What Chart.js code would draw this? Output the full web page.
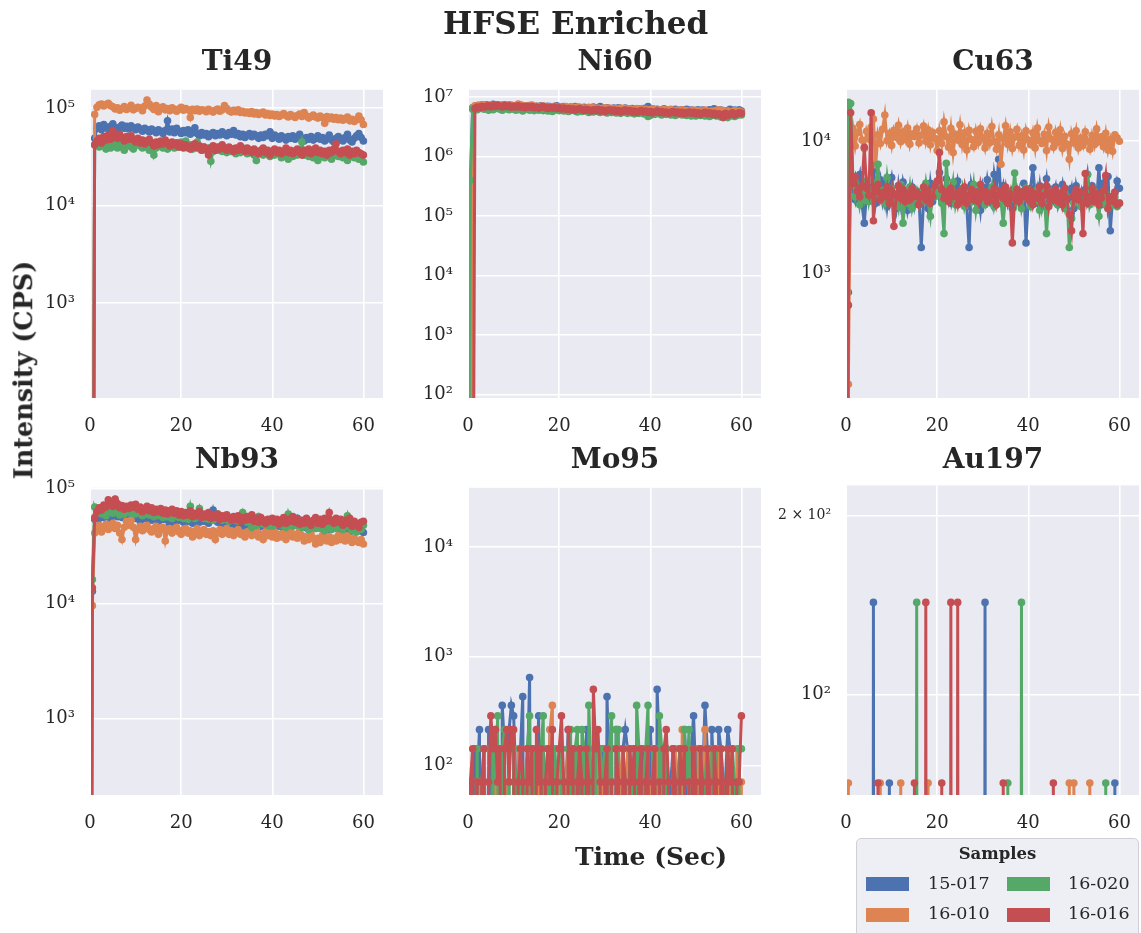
<!DOCTYPE html>
<html>
<head>
<meta charset="utf-8">
<title>HFSE Enriched</title>
<script src="https://cdn.jsdelivr.net/npm/chart.js@4.4.1/dist/chart.umd.min.js"></script>
<style>
  body { margin: 0; background: #fff; }
  #fig { position: relative; width: 1141px; height: 933px; overflow: hidden;
         font-family: "DejaVu Serif", serif; color: #262626; }
  #fig canvas { position: absolute; }
  .lbl { position: absolute; font-weight: bold; white-space: nowrap; line-height: 1; }
  .ptitle { font-size: 28px; width: 292px; text-align: center; }
  #legend { position: absolute; left: 856px; top: 838px; width: 281px; height: 110px;
            background: rgba(234, 234, 242, 0.8); border: 1px solid #cfcfd6; border-radius: 5px; }
  #legend .sw { position: absolute; width: 43px; height: 14px; }
  #legend .txt { position: absolute; font-size: 17.5px; line-height: 1; }
</style>
</head>
<body>
<div id="fig"></div>
<script>
// sample names and seaborn "deep" colours
const sampleNames = ['15-017', '16-010', '16-020', '16-016'];
const sampleColors = ['#4C72B0', '#DD8452', '#55A868', '#C44E52'];

// acquisition time (s)
const timeSec = [
  0, 0.5, 1, 1.5, 2, 2.5, 3, 3.5, 4, 4.5,
  5, 5.5, 6, 6.5, 7, 7.5, 8, 8.5, 9, 9.5,
  10, 10.5, 11, 11.5, 12, 12.5, 13, 13.5, 14, 14.5,
  15, 15.5, 16, 16.5, 17, 17.5, 18, 18.5, 19, 19.5,
  20, 20.5, 21, 21.5, 22, 22.5, 23, 23.5, 24, 24.5,
  25, 25.5, 26, 26.5, 27, 27.5, 28, 28.5, 29, 29.5,
  30, 30.5, 31, 31.5, 32, 32.5, 33, 33.5, 34, 34.5,
  35, 35.5, 36, 36.5, 37, 37.5, 38, 38.5, 39, 39.5,
  40, 40.5, 41, 41.5, 42, 42.5, 43, 43.5, 44, 44.5,
  45, 45.5, 46, 46.5, 47, 47.5, 48, 48.5, 49, 49.5,
  50, 50.5, 51, 51.5, 52, 52.5, 53, 53.5, 54, 54.5,
  55, 55.5, 56, 56.5, 57, 57.5, 58, 58.5, 59, 59.5,
  60];
const timeTicks = [0, 20, 40, 60];

// ---- Ti49 (CPS) ----
const ti49_15_017 = [
  0, 0, 4.9e4, 6.2e4, 6.6e4, 6.0e4, 6.8e4, 6.4e4, 6.1e4, 6.5e4,
  6.9e4, 6.3e4, 6.0e4, 6.4e4, 6.7e4, 6.2e4, 6.5e4, 6.1e4, 6.6e4, 6.3e4,
  6.0e4, 6.4e4, 6.1e4, 5.8e4, 6.2e4, 6.0e4, 5.7e4, 6.1e4, 5.9e4, 5.6e4,
  6.0e4, 5.8e4, 5.5e4, 5.9e4, 7.4e4, 5.7e4, 6.1e4, 5.6e4, 6.2e4, 5.8e4,
  5.5e4, 5.9e4, 5.6e4, 6.0e4, 5.4e4, 5.7e4, 6.3e4, 5.5e4, 5.2e4, 5.6e4,
  5.3e4, 5.5e4, 5.1e4, 5.4e4, 5.6e4, 5.2e4, 5.5e4, 5.3e4, 5.7e4, 5.4e4,
  5.2e4, 5.6e4, 5.4e4, 5.9e4, 5.3e4, 5.5e4, 5.1e4, 5.4e4, 5.0e4, 5.3e4,
  5.5e4, 5.1e4, 5.4e4, 5.2e4, 4.9e4, 5.3e4, 5.0e4, 5.4e4, 5.2e4, 5.7e4,
  4.9e4, 5.3e4, 5.1e4, 4.8e4, 5.2e4, 5.0e4, 4.7e4, 5.1e4, 4.9e4, 5.2e4,
  4.8e4, 5.0e4, 5.4e4, 4.9e4, 4.6e4, 5.0e4, 4.8e4, 5.1e4, 4.7e4, 4.9e4,
  5.2e4, 4.8e4, 5.0e4, 4.6e4, 4.9e4, 5.3e4, 4.7e4, 4.5e4, 4.9e4, 5.1e4,
  4.8e4, 4.6e4, 5.0e4, 5.4e4, 4.7e4, 4.5e4, 4.9e4, 5.2e4, 5.5e4, 5.0e4,
  4.6e4];
const ti49_16_010 = [
  0, 0, 8.6e4, 1.02e5, 1.08e5, 1.1e5, 1.05e5, 1.09e5, 1.12e5, 1.06e5,
  1.03e5, 9.8e4, 1.01e5, 9.5e4, 9.9e4, 1.04e5, 9.7e4, 1.0e5, 1.07e5, 9.6e4,
  9.9e4, 1.02e5, 1.0e5, 9.4e4, 1.05e5, 1.21e5, 1.1e5, 1.02e5, 9.7e4, 1.06e5,
  9.2e4, 1.0e5, 1.03e5, 9.6e4, 9.9e4, 9.4e4, 1.01e5, 9.7e4, 9.3e4, 9.8e4,
  1.02e5, 9.5e4, 9.9e4, 9.6e4, 8.0e4, 9.7e4, 9.4e4, 9.8e4, 9.3e4, 9.6e4,
  9.5e4, 9.2e4, 9.7e4, 9.4e4, 9.1e4, 9.5e4, 9.8e4, 9.3e4, 9.6e4, 1.06e5,
  9.9e4, 9.4e4, 9.1e4, 9.5e4, 9.2e4, 9.6e4, 9.0e4, 9.3e4, 8.9e4, 9.1e4,
  8.8e4, 9.2e4, 8.7e4, 9.0e4, 8.6e4, 8.9e4, 9.1e4, 8.5e4, 8.8e4, 8.4e4,
  8.7e4, 8.3e4, 8.6e4, 8.2e4, 8.5e4, 8.8e4, 8.4e4, 8.1e4, 8.6e4, 8.3e4,
  8.0e4, 8.4e4, 8.7e4, 8.2e4, 9.0e4, 8.3e4, 7.9e4, 8.2e4, 8.5e4, 8.1e4,
  7.9e4, 8.3e4, 8.0e4, 7.0e4, 8.2e4, 7.8e4, 8.1e4, 7.7e4, 8.0e4, 7.6e4,
  7.9e4, 7.5e4, 7.8e4, 8.1e4, 7.4e4, 7.7e4, 7.3e4, 7.6e4, 8.3e4, 7.6e4,
  6.8e4];
const ti49_16_020 = [
  0, 0, 4.2e4, 4.4e4, 4.0e4, 4.6e4, 4.1e4, 3.8e4, 4.3e4, 3.9e4,
  4.5e4, 4.1e4, 3.9e4, 4.4e4, 4.0e4, 3.7e4, 4.2e4, 4.7e4, 4.0e4, 3.8e4,
  4.3e4, 4.8e4, 4.1e4, 3.9e4, 4.4e4, 4.0e4, 3.7e4, 4.2e4, 3.3e4, 3.9e4,
  4.1e4, 4.4e4, 3.9e4, 4.2e4, 3.8e4, 4.1e4, 4.4e4, 3.9e4, 4.3e4, 4.0e4,
  4.5e4, 4.1e4, 4.6e4, 3.9e4, 4.2e4, 3.8e4, 4.1e4, 4.5e4, 4.0e4, 3.7e4,
  4.0e4, 3.7e4, 3.9e4, 2.85e4, 3.6e4, 3.9e4, 3.7e4, 4.0e4, 3.6e4, 3.8e4,
  3.5e4, 3.9e4, 3.6e4, 3.8e4, 3.4e4, 3.7e4, 3.5e4, 3.9e4, 3.6e4, 3.4e4,
  3.7e4, 3.5e4, 3.3e4, 2.9e4, 3.4e4, 3.6e4, 3.3e4, 3.7e4, 3.4e4, 3.2e4,
  3.5e4, 3.3e4, 3.6e4, 3.4e4, 3.1e4, 3.5e4, 3.3e4, 3.0e4, 3.4e4, 3.2e4,
  3.6e4, 3.3e4, 3.5e4, 4.5e4, 3.3e4, 3.6e4, 3.2e4, 3.4e4, 3.1e4, 3.3e4,
  2.9e4, 3.2e4, 3.5e4, 3.1e4, 3.4e4, 3.2e4, 3.0e4, 3.3e4, 3.6e4, 3.2e4,
  3.4e4, 3.1e4, 3.3e4, 2.9e4, 3.2e4, 3.4e4, 3.1e4, 3.3e4, 3.0e4, 3.2e4,
  2.8e4];
const ti49_16_016 = [
  0, 0, 4.2e4, 4.6e4, 4.9e4, 4.4e4, 5.1e4, 4.7e4, 5.3e4, 4.8e4,
  5.85e4, 5.2e4, 4.9e4, 5.4e4, 5.0e4, 4.6e4, 5.1e4, 4.8e4, 5.2e4, 4.7e4,
  4.5e4, 4.9e4, 4.4e4, 4.7e4, 4.3e4, 4.6e4, 4.8e4, 4.4e4, 4.1e4, 4.5e4,
  4.2e4, 4.6e4, 4.3e4, 4.7e4, 4.4e4, 4.1e4, 4.5e4, 4.2e4, 4.4e4, 4.0e4,
  4.3e4, 3.9e4, 4.2e4, 4.0e4, 3.8e4, 4.1e4, 4.3e4, 3.9e4, 4.1e4, 3.7e4,
  4.0e4, 3.8e4, 3.3e4, 3.9e4, 4.1e4, 3.7e4, 4.0e4, 3.8e4, 4.2e4, 3.9e4,
  3.7e4, 4.0e4, 3.8e4, 3.6e4, 3.9e4, 3.7e4, 4.1e4, 3.8e4, 3.6e4, 3.9e4,
  3.7e4, 3.5e4, 3.8e4, 3.6e4, 3.4e4, 3.7e4, 3.9e4, 3.5e4, 3.7e4, 3.3e4,
  3.6e4, 3.8e4, 3.5e4, 3.7e4, 3.4e4, 3.6e4, 3.9e4, 3.5e4, 3.7e4, 3.4e4,
  3.6e4, 3.8e4, 3.5e4, 3.3e4, 3.7e4, 3.5e4, 3.8e4, 3.4e4, 3.6e4, 3.9e4,
  3.5e4, 3.7e4, 3.4e4, 3.6e4, 3.3e4, 3.7e4, 3.5e4, 3.8e4, 4.3e4, 3.6e4,
  3.4e4, 3.7e4, 3.5e4, 3.8e4, 3.3e4, 3.6e4, 3.4e4, 3.7e4, 3.5e4, 3.4e4,
  3.3e4];

// ---- Ni60 (CPS) ----
const ni60_15_017 = [
  0, 3.1e5, 6.6e6, 7.0e6, 7.2e6, 6.9e6, 7.3e6, 7.1e6, 7.4e6, 7.0e6,
  7.2e6, 7.5e6, 7.1e6, 7.3e6, 6.9e6, 7.2e6, 7.4e6, 7.0e6, 7.3e6, 7.1e6,
  6.9e6, 7.2e6, 7.0e6, 7.3e6, 6.8e6, 7.1e6, 6.9e6, 7.2e6, 7.0e6, 6.7e6,
  7.0e6, 6.8e6, 7.1e6, 6.9e6, 6.7e6, 7.0e6, 6.8e6, 6.6e6, 6.9e6, 7.1e6,
  6.8e6, 6.6e6, 6.9e6, 6.7e6, 6.5e6, 6.8e6, 6.6e6, 6.9e6, 6.5e6, 6.7e6,
  6.4e6, 6.7e6, 6.5e6, 6.3e6, 6.6e6, 6.8e6, 6.4e6, 6.6e6, 6.9e6, 6.5e6,
  6.3e6, 6.6e6, 6.4e6, 6.2e6, 6.5e6, 6.3e6, 6.6e6, 6.4e6, 6.2e6, 6.5e6,
  6.3e6, 6.1e6, 6.4e6, 6.2e6, 6.0e6, 6.3e6, 6.1e6, 6.4e6, 6.2e6, 6.9e6,
  6.1e6, 6.3e6, 6.0e6, 6.2e6, 5.9e6, 6.1e6, 6.3e6, 6.0e6, 5.8e6, 6.1e6,
  5.9e6, 6.2e6, 6.0e6, 5.8e6, 6.1e6, 5.9e6, 6.2e6, 5.8e6, 6.0e6, 5.7e6,
  5.9e6, 6.1e6, 5.8e6, 6.0e6, 5.7e6, 5.9e6, 6.1e6, 5.8e6, 6.3e6, 5.9e6,
  5.7e6, 6.0e6, 5.8e6, 5.6e6, 5.9e6, 6.2e6, 5.8e6, 6.0e6, 5.7e6, 6.1e6,
  5.8e6];
const ni60_16_010 = [
  0, 0, 6.5e6, 7.1e6, 6.9e6, 7.3e6, 7.0e6, 7.4e6, 7.2e6, 6.9e6,
  7.3e6, 7.0e6, 7.2e6, 6.8e6, 7.1e6, 7.4e6, 6.9e6, 7.2e6, 7.0e6, 7.3e6,
  6.9e6, 7.1e6, 7.6e6, 7.0e6, 7.2e6, 6.8e6, 7.1e6, 6.9e6, 7.3e6, 6.8e6,
  7.0e6, 6.7e6, 6.9e6, 7.1e6, 6.8e6, 6.6e6, 6.9e6, 6.7e6, 7.0e6, 6.6e6,
  6.8e6, 6.5e6, 6.7e6, 6.9e6, 6.6e6, 6.4e6, 6.7e6, 6.5e6, 6.8e6, 6.4e6,
  6.6e6, 6.3e6, 6.5e6, 6.7e6, 6.4e6, 6.6e6, 6.3e6, 6.5e6, 6.2e6, 6.4e6,
  6.6e6, 6.3e6, 6.5e6, 6.2e6, 6.4e6, 6.1e6, 6.3e6, 6.5e6, 6.2e6, 6.4e6,
  6.1e6, 6.3e6, 6.0e6, 6.2e6, 6.4e6, 6.1e6, 6.3e6, 6.0e6, 6.2e6, 5.9e6,
  6.1e6, 6.3e6, 6.0e6, 5.8e6, 6.1e6, 5.9e6, 6.2e6, 5.8e6, 6.0e6, 6.2e6,
  5.9e6, 5.7e6, 6.0e6, 5.8e6, 6.1e6, 5.7e6, 5.9e6, 5.6e6, 5.8e6, 6.0e6,
  5.7e6, 5.9e6, 5.6e6, 5.8e6, 6.0e6, 5.7e6, 5.5e6, 5.8e6, 5.6e6, 5.9e6,
  6.1e6, 5.7e6, 5.9e6, 5.6e6, 5.8e6, 5.5e6, 5.7e6, 5.9e6, 5.6e6, 5.8e6,
  5.6e6];
const ni60_16_020 = [
  0, 4.0e5, 6.2e6, 6.5e6, 6.1e6, 6.4e6, 6.6e6, 6.2e6, 6.5e6, 6.0e6,
  6.3e6, 6.1e6, 6.4e6, 6.6e6, 6.2e6, 6.0e6, 6.3e6, 6.5e6, 6.1e6, 6.4e6,
  6.2e6, 6.0e6, 6.3e6, 6.1e6, 5.8e6, 6.2e6, 6.4e6, 6.0e6, 6.3e6, 5.9e6,
  6.2e6, 6.0e6, 6.3e6, 5.9e6, 6.1e6, 5.8e6, 6.2e6, 5.7e6, 6.0e6, 6.2e6,
  5.9e6, 6.1e6, 5.8e6, 6.0e6, 5.7e6, 5.9e6, 6.1e6, 5.8e6, 5.6e6, 5.9e6,
  5.7e6, 6.0e6, 5.8e6, 5.5e6, 5.8e6, 5.6e6, 5.9e6, 5.7e6, 5.5e6, 5.8e6,
  5.6e6, 5.4e6, 5.7e6, 5.5e6, 5.8e6, 5.4e6, 5.6e6, 5.3e6, 5.6e6, 5.5e6,
  5.3e6, 5.6e6, 5.4e6, 5.2e6, 5.5e6, 5.3e6, 5.6e6, 5.2e6, 5.4e6, 4.7e6,
  4.9e6, 5.3e6, 5.1e6, 5.4e6, 5.2e6, 5.0e6, 5.3e6, 5.1e6, 5.4e6, 5.0e6,
  5.2e6, 4.9e6, 5.1e6, 5.3e6, 5.0e6, 5.2e6, 4.9e6, 5.1e6, 4.8e6, 5.0e6,
  4.8e6, 5.1e6, 4.9e6, 5.2e6, 4.8e6, 5.0e6, 4.7e6, 4.9e6, 5.1e6, 4.8e6,
  5.0e6, 4.6e6, 4.9e6, 5.1e6, 4.5e6, 4.8e6, 5.0e6, 4.7e6, 4.9e6, 5.1e6,
  5.0e6];
const ni60_16_016 = [
  0, 0, 0, 6.4e6, 6.8e6, 6.6e6, 7.0e6, 6.7e6, 6.9e6, 7.2e6,
  6.8e6, 7.1e6, 6.9e6, 7.3e6, 7.0e6, 6.8e6, 7.2e6, 6.9e6, 7.1e6, 6.7e6,
  7.0e6, 6.8e6, 7.1e6, 6.7e6, 6.9e6, 6.6e6, 6.9e6, 6.7e6, 7.0e6, 6.6e6,
  6.8e6, 6.5e6, 6.7e6, 6.9e6, 6.6e6, 6.4e6, 6.7e6, 6.5e6, 6.8e6, 6.4e6,
  6.6e6, 6.3e6, 6.5e6, 6.2e6, 6.4e6, 6.1e6, 6.3e6, 6.0e6, 6.2e6, 6.4e6,
  6.1e6, 5.9e6, 6.2e6, 6.0e6, 5.8e6, 6.1e6, 5.9e6, 6.2e6, 5.8e6, 6.0e6,
  5.7e6, 5.9e6, 6.1e6, 5.8e6, 6.0e6, 5.7e6, 5.9e6, 5.6e6, 5.8e6, 6.0e6,
  5.7e6, 5.9e6, 5.6e6, 5.8e6, 5.5e6, 5.7e6, 5.9e6, 5.6e6, 5.8e6, 5.5e6,
  5.7e6, 5.4e6, 5.6e6, 5.8e6, 5.5e6, 5.7e6, 5.4e6, 5.6e6, 5.3e6, 5.5e6,
  5.7e6, 5.4e6, 5.6e6, 5.3e6, 5.5e6, 5.2e6, 5.4e6, 5.6e6, 5.3e6, 5.5e6,
  5.2e6, 5.4e6, 5.1e6, 5.3e6, 5.5e6, 5.2e6, 5.4e6, 5.1e6, 5.3e6, 5.0e6,
  5.2e6, 5.0e6, 4.5e6, 5.3e6, 4.9e6, 5.1e6, 5.4e6, 5.0e6, 5.2e6, 5.4e6,
  5.3e6];

// ---- Cu63 (CPS) ----
const cu63_15_017 = [
  0, 720, 5200, 4300, 3600, 4800, 5600, 3300, 2400, 4100,
  4500, 3800, 6000, 3400, 4200, 5100, 3600, 4700, 3200, 4400,
  5300, 3900, 3100, 4600, 3400, 4900, 4100, 3000, 3700, 4500,
  3300, 4200, 3800, 1570, 3600, 4400, 3100, 4800, 3500, 4000,
  4700, 5800, 3600, 4300, 5200, 3900, 3400, 4600, 3800, 5000,
  4100, 3500, 4400, 3200, 1570, 4700, 3900, 3600, 4200, 3000,
  4500, 3700, 5100, 4000, 3400, 5600, 4300, 7300, 3800, 4600,
  3500, 4200, 3900, 3100, 4400, 3700, 4100, 3300, 4800, 1700,
  3700, 4400, 6300, 3900, 3400, 4600, 3200, 4100, 5200, 3600,
  4300, 3800, 4500, 3300, 3900, 4700, 3500, 4200, 3700, 4400,
  3100, 4600, 3800, 4100, 3500, 4300, 5600, 3900, 4600, 4200,
  3600, 6300, 3300, 4800, 3900, 5400, 2100, 3700, 4100, 5000,
  4400];
const cu63_16_010 = [
  0, 145, 9800, 12500, 9200, 11600, 13400, 10200, 8800, 11900,
  10400, 12800, 14700, 6600, 11200, 9600, 12300, 15800, 10100, 11500,
  9300, 12100, 10700, 13200, 9900, 11800, 10300, 12600, 9500, 11400,
  10800, 12400, 9700, 11100, 13000, 10000, 12200, 9400, 11700, 10500,
  8500, 12000, 9600, 14000, 10800, 9000, 12500, 8200, 11300, 10200,
  13300, 9400, 11600, 8600, 12100, 10300, 9100, 11900, 9800, 12400,
  10600, 8900, 11500, 9700, 12900, 10000, 8700, 11200, 6700, 10500,
  13100, 9500, 11800, 8800, 10700, 12300, 9300, 11000, 8600, 12000,
  10200, 9400, 11600, 8900, 12600, 10100, 9600, 11300, 8500, 12800,
  10400, 9000, 11700, 9800, 12200, 8800, 10900, 9500, 7300, 11400,
  9700, 12000, 8900, 10600, 9300, 11800, 10000, 8700, 11100, 9400,
  12400, 9900, 10800, 9100, 11500, 8600, 10300, 8400, 11200, 10600,
  10000];
const cu63_16_020 = [
  0, 19700, 19300, 5200, 3800, 4600, 3300, 4100, 3600, 5000,
  3500, 4300, 3900, 4800, 6700, 3700, 4200, 3400, 5300, 3800,
  4400, 3600, 4000, 3200, 4700, 2400, 3900, 3400, 4500, 3100,
  3700, 4200, 3300, 4000, 3600, 4800, 3500, 2700, 4100, 3800,
  4600, 3900, 3400, 2000, 6800, 4200, 3700, 4900, 3300, 4000,
  3600, 4400, 3200, 3800, 4100, 3500, 4700, 3000, 3900, 4300,
  3700, 3300, 4000, 3600, 4500, 3200, 3800, 4200, 3500, 2400,
  3900, 3400, 4100, 3700, 5750, 3500, 4200, 3100, 3800, 4400,
  3600, 3200, 4000, 3500, 4300, 3000, 3700, 4100, 2000, 3800,
  4200, 3500, 3900, 3300, 4000, 3600, 3100, 3800, 1570, 2600,
  3400, 4100, 3700, 3200, 3900, 3500, 5600, 3300, 3800, 4200,
  3500, 2700, 3900, 3400, 4000, 3100, 3700, 3300, 3800, 3200,
  3400];
const cu63_16_016 = [
  0, 575, 16400, 4800, 5400, 4200, 3800, 4600, 9000, 4400,
  3900, 16400, 2500, 4300, 4700, 3600, 4100, 3800, 4500, 3400,
  4200, 2270, 3900, 4600, 3700, 4300, 3500, 4000, 3600, 4400,
  3800, 4100, 3300, 3900, 4500, 3600, 4200, 3400, 3800, 4600,
  5000, 8200, 4300, 3700, 4100, 3500, 4400, 3800, 4000, 3300,
  4200, 3600, 4500, 3400, 3900, 4300, 3600, 4100, 3500, 4700,
  3800, 4200, 3500, 4000, 3600, 4400, 3300, 3900, 4200, 3700,
  4500, 3400, 4000, 1700, 3700, 4300, 3500, 4100, 3800, 4300,
  3600, 4200, 3300, 4000, 3700, 4500, 3400, 3900, 4600, 3200,
  4100, 3600, 4300, 3500, 4000, 3300, 4400, 3700, 2800, 2100,
  3900, 4300, 3600, 4100, 2000, 5700, 3400, 3800, 4400, 3500,
  4000, 3300, 3700, 4200, 5500, 3100, 3800, 3500, 4100, 3300,
  3400];

// ---- Nb93 (CPS) ----
const nb93_15_017 = [
  0, 1.28e4, 5.4e4, 5.7e4, 5.5e4, 5.9e4, 5.6e4, 6.0e4, 5.7e4, 5.5e4,
  5.8e4, 6.1e4, 5.7e4, 6.0e4, 5.6e4, 5.9e4, 6.2e4, 5.8e4, 6.0e4, 5.7e4,
  5.5e4, 5.9e4, 5.2e4, 5.6e4, 5.8e4, 5.4e4, 5.7e4, 5.3e4, 5.6e4, 5.5e4,
  5.2e4, 5.6e4, 5.4e4, 5.7e4, 5.3e4, 4.9e4, 5.5e4, 5.2e4, 5.6e4, 5.3e4,
  5.5e4, 5.1e4, 5.4e4, 5.2e4, 5.6e4, 5.0e4, 5.3e4, 5.5e4, 5.1e4, 5.4e4,
  5.2e4, 5.5e4, 5.0e4, 5.3e4, 6.5e4, 5.4e4, 5.1e4, 5.3e4, 4.9e4, 5.2e4,
  5.0e4, 5.3e4, 4.8e4, 5.1e4, 4.6e4, 5.0e4, 5.2e4, 4.8e4, 4.6e4, 4.9e4,
  4.7e4, 5.0e4, 4.8e4, 5.1e4, 4.6e4, 4.9e4, 4.7e4, 5.0e4, 4.5e4, 4.8e4,
  4.6e4, 4.9e4, 5.1e4, 4.7e4, 4.9e4, 4.5e4, 4.8e4, 5.2e4, 4.6e4, 5.3e4,
  4.8e4, 5.5e4, 4.7e4, 5.0e4, 4.6e4, 4.9e4, 4.4e4, 4.7e4, 4.5e4, 4.8e4,
  5.0e4, 4.6e4, 4.9e4, 5.3e4, 4.7e4, 4.4e4, 4.8e4, 4.6e4, 5.0e4, 4.5e4,
  4.7e4, 4.3e4, 4.8e4, 4.5e4, 4.2e4, 4.6e4, 4.4e4, 4.7e4, 4.3e4, 4.5e4,
  4.15e4];
const nb93_16_010 = [
  0, 9.6e3, 4.1e4, 4.5e4, 4.8e4, 4.2e4, 4.6e4, 4.9e4, 4.4e4, 4.7e4,
  5.0e4, 4.5e4, 4.8e4, 4.1e4, 3.6e4, 4.6e4, 5.2e4, 4.8e4, 5.3e4, 4.6e4,
  3.6e4, 4.4e4, 4.7e4, 4.3e4, 4.6e4, 4.8e4, 4.4e4, 4.2e4, 4.5e4, 4.7e4,
  4.0e4, 4.4e4, 4.6e4, 3.5e4, 4.3e4, 4.5e4, 4.1e4, 4.4e4, 4.6e4, 4.2e4,
  4.0e4, 4.4e4, 4.5e4, 4.1e4, 4.3e4, 3.8e4, 4.2e4, 4.5e4, 3.9e4, 4.2e4,
  4.4e4, 4.0e4, 4.2e4, 3.9e4, 4.3e4, 3.6e4, 4.1e4, 4.4e4, 4.0e4, 4.2e4,
  4.5e4, 4.0e4, 4.3e4, 3.9e4, 4.2e4, 4.4e4, 4.0e4, 4.1e4, 3.8e4, 4.2e4,
  4.3e4, 3.9e4, 4.1e4, 4.4e4, 3.8e4, 4.0e4, 3.6e4, 4.2e4, 3.9e4, 4.1e4,
  3.8e4, 4.2e4, 3.7e4, 4.0e4, 3.8e4, 4.1e4, 3.6e4, 3.9e4, 4.2e4, 3.8e4,
  4.0e4, 3.7e4, 4.3e4, 3.9e4, 3.5e4, 3.8e4, 3.6e4, 4.0e4, 3.7e4, 3.3e4,
  3.7e4, 3.4e4, 3.9e4, 3.6e4, 3.5e4, 3.8e4, 3.4e4, 3.7e4, 3.5e4, 3.9e4,
  3.6e4, 3.8e4, 3.5e4, 3.9e4, 3.6e4, 3.4e4, 3.7e4, 3.5e4, 3.4e4, 3.6e4,
  3.3e4];
const nb93_16_020 = [
  0, 1.62e4, 6.9e4, 6.2e4, 6.6e4, 6.0e4, 6.4e4, 5.8e4, 6.3e4, 6.7e4,
  6.1e4, 6.5e4, 6.2e4, 5.9e4, 6.4e4, 6.0e4, 6.3e4, 6.6e4, 6.1e4, 6.4e4,
  6.0e4, 6.8e4, 6.2e4, 5.8e4, 6.1e4, 6.3e4, 5.9e4, 6.2e4, 5.7e4, 6.0e4,
  5.8e4, 6.1e4, 5.6e4, 5.9e4, 5.7e4, 6.0e4, 5.5e4, 5.8e4, 6.1e4, 5.6e4,
  5.9e4, 5.5e4, 5.8e4, 5.4e4, 7.0e4, 5.7e4, 5.5e4, 5.8e4, 6.7e4, 5.6e4,
  5.5e4, 5.8e4, 5.4e4, 5.6e4, 5.3e4, 5.7e4, 6.0e4, 5.5e4, 5.3e4, 5.6e4,
  5.4e4, 5.2e4, 5.5e4, 5.3e4, 5.6e4, 5.2e4, 5.4e4, 6.2e4, 5.3e4, 5.1e4,
  5.5e4, 4.6e4, 5.3e4, 4.8e4, 5.7e4, 5.1e4, 4.9e4, 5.2e4, 4.8e4, 5.0e4,
  4.7e4, 5.1e4, 4.9e4, 5.3e4, 4.8e4, 5.0e4, 4.6e4, 6.0e4, 5.1e4, 4.7e4,
  5.0e4, 4.8e4, 5.2e4, 4.6e4, 4.9e4, 5.1e4, 4.4e4, 4.8e4, 5.0e4, 4.5e4,
  4.9e4, 4.5e4, 4.8e4, 4.3e4, 4.7e4, 5.0e4, 4.4e4, 4.8e4, 4.5e4, 5.2e4,
  4.7e4, 4.4e4, 4.9e4, 5.8e4, 4.6e4, 4.3e4, 4.8e4, 4.2e4, 4.6e4, 4.4e4,
  4.8e4];
const nb93_16_016 = [
  0, 1.37e4, 5.6e4, 6.3e4, 6.8e4, 6.5e4, 7.2e4, 6.9e4, 8.0e4, 7.3e4,
  7.0e4, 8.1e4, 7.4e4, 6.8e4, 7.1e4, 6.6e4, 7.0e4, 6.7e4, 7.2e4, 6.9e4,
  7.3e4, 6.6e4, 6.9e4, 6.3e4, 6.7e4, 7.0e4, 6.4e4, 6.8e4, 6.2e4, 6.6e4,
  6.3e4, 6.7e4, 6.1e4, 6.5e4, 6.0e4, 6.4e4, 6.6e4, 6.1e4, 6.4e4, 5.9e4,
  6.3e4, 5.8e4, 6.2e4, 5.9e4, 6.4e4, 5.7e4, 6.1e4, 5.8e4, 6.3e4, 5.6e4,
  6.0e4, 5.7e4, 6.2e4, 5.5e4, 5.9e4, 5.6e4, 6.0e4, 5.4e4, 5.8e4, 5.5e4,
  5.9e4, 5.6e4, 5.3e4, 5.7e4, 5.4e4, 5.8e4, 5.2e4, 5.6e4, 5.3e4, 5.7e4,
  5.4e4, 5.9e4, 5.2e4, 5.5e4, 5.1e4, 5.6e4, 5.3e4, 5.0e4, 5.4e4, 5.2e4,
  5.5e4, 5.1e4, 5.4e4, 4.9e4, 5.3e4, 5.6e4, 5.0e4, 5.4e4, 5.2e4, 5.7e4,
  5.1e4, 5.4e4, 4.9e4, 5.3e4, 5.0e4, 5.5e4, 5.2e4, 4.8e4, 5.3e4, 5.6e4,
  5.0e4, 5.4e4, 4.9e4, 5.5e4, 5.2e4, 6.2e4, 5.3e4, 5.0e4, 5.5e4, 5.1e4,
  5.4e4, 4.8e4, 5.3e4, 5.0e4, 5.5e4, 4.7e4, 5.2e4, 4.9e4, 4.6e4, 5.1e4,
  5.2e4];

// ---- Mo95 (CPS) ----
const mo95_15_017 = [
  0, 71, 0, 143, 71, 214, 0, 71, 0, 214,
  143, 0, 214, 71, 0, 357, 143, 0, 214, 357,
  286, 71, 0, 143, 429, 0, 71, 643, 0, 143,
  71, 286, 0, 143, 71, 0, 214, 71, 143, 0,
  71, 143, 0, 71, 214, 0, 143, 71, 0, 143,
  71, 0, 214, 143, 0, 71, 143, 0, 71, 143,
  0, 429, 71, 143, 0, 214, 71, 0, 143, 214,
  143, 0, 71, 143, 0, 71, 0, 143, 71, 0,
  214, 71, 0, 500, 143, 0, 71, 143, 0, 71,
  143, 0, 71, 143, 0, 214, 71, 0, 143, 286,
  71, 143, 0, 71, 357, 143, 0, 214, 71, 0,
  214, 143, 0, 71, 214, 143, 0, 71, 0, 143,
  0];
const mo95_16_010 = [
  0, 0, 71, 0, 0, 71, 0, 143, 0, 71,
  0, 143, 71, 0, 0, 143, 0, 71, 0, 0,
  71, 0, 143, 0, 71, 0, 0, 143, 71, 0,
  0, 71, 143, 0, 0, 71, 214, 357, 0, 71,
  143, 0, 0, 71, 143, 0, 71, 0, 143, 0,
  0, 71, 0, 143, 0, 0, 71, 143, 0, 71,
  0, 143, 0, 71, 0, 0, 143, 71, 0, 0,
  143, 0, 71, 0, 143, 0, 0, 71, 143, 0,
  71, 0, 0, 143, 0, 71, 0, 143, 0, 0,
  71, 143, 0, 0, 214, 71, 0, 143, 0, 71,
  0, 143, 0, 71, 214, 0, 143, 0, 71, 0,
  143, 0, 71, 0, 0, 143, 71, 0, 143, 0,
  71];
const mo95_16_020 = [
  0, 0, 71, 0, 143, 0, 71, 143, 0, 143,
  0, 143, 71, 286, 0, 143, 214, 0, 71, 0,
  143, 71, 0, 143, 0, 71, 143, 286, 0, 143,
  71, 0, 143, 286, 0, 143, 71, 0, 143, 71,
  0, 143, 71, 0, 143, 214, 0, 143, 214, 0,
  214, 143, 0, 357, 71, 0, 143, 0, 143, 71,
  143, 0, 143, 286, 0, 214, 214, 0, 143, 71,
  0, 143, 71, 0, 357, 143, 0, 71, 143, 357,
  0, 143, 71, 0, 286, 143, 0, 143, 71, 0,
  143, 0, 71, 143, 0, 214, 71, 214, 0, 143,
  71, 0, 143, 0, 71, 143, 0, 143, 0, 143,
  0, 143, 71, 0, 143, 0, 143, 71, 0, 143,
  143];
const mo95_16_016 = [
  0, 71, 143, 0, 71, 0, 71, 143, 0, 71,
  286, 143, 214, 71, 143, 0, 143, 214, 71, 214,
  214, 0, 71, 143, 71, 0, 143, 71, 143, 0,
  214, 71, 143, 0, 71, 143, 71, 214, 0, 71,
  143, 286, 71, 0, 214, 71, 143, 0, 71, 143,
  71, 0, 143, 71, 0, 500, 143, 214, 71, 0,
  71, 143, 0, 71, 0, 143, 71, 0, 143, 71,
  0, 143, 71, 143, 0, 71, 143, 0, 71, 143,
  0, 71, 143, 0, 71, 0, 143, 214, 71, 0,
  143, 71, 0, 143, 71, 143, 0, 71, 0, 143,
  71, 0, 143, 71, 0, 143, 71, 0, 143, 71,
  0, 143, 71, 0, 143, 71, 143, 0, 71, 71,
  286];

// ---- Au197 (CPS) ----
const au197_15_017 = [
  0, 0, 0, 0, 0, 0, 0, 0, 0, 0,
  0, 0, 143, 0, 0, 0, 0, 0, 0, 71,
  0, 0, 0, 0, 0, 0, 0, 0, 0, 0,
  0, 0, 0, 0, 0, 0, 0, 0, 0, 0,
  0, 0, 0, 0, 0, 0, 0, 0, 0, 0,
  0, 0, 0, 0, 0, 0, 0, 0, 0, 0,
  0, 143, 0, 0, 0, 0, 0, 0, 0, 0,
  0, 0, 0, 0, 0, 0, 0, 0, 0, 0,
  0, 0, 0, 0, 0, 0, 0, 0, 0, 0,
  0, 0, 0, 0, 0, 0, 0, 0, 0, 0,
  0, 0, 0, 0, 0, 0, 0, 0, 0, 0,
  0, 0, 0, 0, 0, 0, 0, 0, 71, 0,
  0];
const au197_16_010 = [
  0, 71, 0, 0, 0, 0, 0, 0, 0, 0,
  0, 0, 0, 0, 0, 71, 0, 0, 0, 0,
  0, 0, 0, 0, 71, 0, 0, 0, 0, 0,
  0, 0, 0, 0, 0, 0, 71, 0, 0, 0,
  0, 0, 0, 0, 0, 0, 0, 0, 0, 0,
  0, 0, 0, 0, 0, 0, 0, 0, 0, 0,
  0, 0, 0, 0, 0, 0, 0, 0, 0, 0,
  0, 0, 0, 0, 0, 0, 0, 0, 0, 0,
  0, 0, 0, 0, 0, 0, 0, 0, 0, 0,
  0, 0, 0, 0, 0, 0, 0, 0, 71, 0,
  71, 0, 0, 0, 0, 0, 0, 71, 0, 0,
  0, 0, 0, 0, 0, 0, 0, 0, 0, 0,
  0];
const au197_16_020 = [
  0, 0, 0, 0, 0, 0, 0, 0, 0, 0,
  0, 0, 0, 0, 0, 0, 0, 0, 0, 0,
  0, 0, 0, 0, 0, 0, 0, 0, 0, 0,
  0, 143, 0, 0, 0, 0, 0, 0, 0, 0,
  0, 0, 0, 0, 0, 0, 0, 0, 0, 0,
  0, 0, 0, 0, 0, 0, 0, 0, 0, 0,
  0, 0, 0, 0, 0, 0, 0, 0, 0, 0,
  0, 71, 0, 0, 0, 0, 0, 143, 0, 0,
  0, 0, 0, 0, 0, 0, 0, 0, 0, 0,
  0, 0, 0, 0, 0, 0, 0, 0, 0, 0,
  0, 0, 0, 0, 0, 0, 0, 0, 0, 0,
  0, 0, 0, 0, 71, 0, 0, 0, 0, 0,
  0];
const au197_16_016 = [
  0, 0, 0, 0, 0, 0, 0, 0, 0, 0,
  0, 0, 0, 0, 71, 0, 0, 0, 0, 0,
  0, 0, 0, 0, 0, 0, 0, 0, 0, 0,
  71, 0, 0, 0, 0, 143, 0, 0, 0, 0,
  0, 0, 71, 0, 0, 0, 143, 0, 0, 143,
  0, 0, 0, 0, 0, 0, 0, 0, 0, 0,
  0, 0, 0, 0, 0, 0, 0, 0, 0, 71,
  0, 0, 0, 0, 0, 0, 0, 0, 0, 0,
  0, 0, 0, 0, 0, 0, 0, 0, 0, 0,
  0, 71, 0, 0, 0, 0, 0, 0, 0, 0,
  0, 0, 0, 0, 0, 0, 0, 0, 0, 0,
  0, 0, 0, 0, 0, 0, 0, 0, 0, 0,
  0];

// y tick values per element
const ti49Ticks = [1e3, 1e4, 1e5];
const ni60Ticks = [1e2, 1e3, 1e4, 1e5, 1e6, 1e7];
const cu63Ticks = [1e3, 1e4];
const nb93Ticks = [1e3, 1e4, 1e5];
const mo95Ticks = [1e2, 1e3, 1e4];
const au197Ticks = [1e2, 2e2];

// panel layout: plot-area position in the figure plus log y limits
const panels = [
  { title: 'Ti49',  left: 91,  top: 83,  h: 315, yMin: 107,  yMax: 1.54e5, ticks: ti49Ticks,
    series: [ti49_15_017, ti49_16_010, ti49_16_020, ti49_16_016] },
  { title: 'Ni60',  left: 469, top: 83,  h: 315, yMin: 87,   yMax: 1.32e7, ticks: ni60Ticks,
    series: [ni60_15_017, ni60_16_010, ni60_16_020, ni60_16_016] },
  { title: 'Cu63',  left: 847, top: 83,  h: 315, yMin: 114,  yMax: 2.45e4, ticks: cu63Ticks,
    series: [cu63_15_017, cu63_16_010, cu63_16_020, cu63_16_016] },
  { title: 'Nb93',  left: 91,  top: 481, h: 314, yMin: 217,  yMax: 1.015e5, ticks: nb93Ticks,
    series: [nb93_15_017, nb93_16_010, nb93_16_020, nb93_16_016] },
  { title: 'Mo95',  left: 469, top: 481, h: 314, yMin: 54,   yMax: 3.5e4, ticks: mo95Ticks,
    series: [mo95_15_017, mo95_16_010, mo95_16_020, mo95_16_016] },
  { title: 'Au197', left: 847, top: 481, h: 314, yMin: 67.8, yMax: 225,   ticks: au197Ticks,
    series: [au197_15_017, au197_16_010, au197_16_020, au197_16_016] }
];

const PLOT_W = 292, AXIS_W = 91, AXIS_H = 45, PAD_TOP = 20, PAD_RIGHT = 12;
const FONT = 'DejaVu Serif';
const SUP = { '0': '⁰', '1': '¹', '2': '²', '3': '³', '4': '⁴',
              '5': '⁵', '6': '⁶', '7': '⁷', '8': '⁸', '9': '⁹' };

function mantissa(v) {
  const e = Math.floor(Math.log10(v) + 1e-9);
  return { e, m: Math.round(v / Math.pow(10, e)) };
}
function logLabel(v) {
  const { e, m } = mantissa(v);
  const pow = '10' + String(e).split('').map(c => SUP[c]).join('');
  return m === 1 ? pow : m + ' × ' + pow;
}

const fig = document.getElementById('fig');

function addText(text, cls, style) {
  const d = document.createElement('div');
  d.className = 'lbl ' + cls;
  d.textContent = text;
  Object.assign(d.style, style);
  fig.appendChild(d);
  return d;
}

panels.forEach(p => {
  const cv = document.createElement('canvas');
  const w = AXIS_W + PLOT_W + PAD_RIGHT;
  const h = PAD_TOP + p.h + AXIS_H;
  cv.width = w; cv.height = h;
  cv.style.left = (p.left - AXIS_W) + 'px';
  cv.style.top = (p.top - PAD_TOP) + 'px';
  cv.style.width = w + 'px'; cv.style.height = h + 'px';
  fig.appendChild(cv);

  addText(p.title, 'ptitle', { left: p.left + 'px', top: (p.top - 36.5) + 'px' });

  // log axis: zero counts are pushed far below the axis floor, so the line drops off the plot
  const datasets = p.series.map((vals, i) => ({
    label: sampleNames[i],
    data: timeSec.map((t, k) => ({ x: t, y: vals[k] > 0 ? vals[k] : 1e-3 })),
    borderColor: sampleColors[i],
    backgroundColor: sampleColors[i],
    pointBackgroundColor: sampleColors[i],
    borderWidth: 3,
    pointRadius: 3.8,
    pointBorderWidth: 0,
    pointHoverRadius: 0,
    tension: 0,
    order: p.series.length - i
  }));

  new Chart(cv, {
    type: 'line',
    data: { datasets },
    options: {
      responsive: false,
      animation: false,
      devicePixelRatio: 1,
      events: [],
      layout: { padding: { top: PAD_TOP, right: PAD_RIGHT, left: 0, bottom: 0 } },
      plugins: { legend: { display: false }, tooltip: { enabled: false }, title: { display: false } },
      scales: {
        x: {
          type: 'linear',
          min: 0.2, max: 64.3,
          afterBuildTicks: s => { s.ticks = timeTicks.map(v => ({ value: v })); },
          afterFit: s => { s.height = AXIS_H; },
          grid: { color: '#ffffff', lineWidth: 1.6, drawTicks: false },
          border: { display: false },
          ticks: { padding: 18, color: '#262626', font: { family: FONT, size: 18 }, maxRotation: 0 }
        },
        y: {
          type: 'logarithmic',
          min: p.yMin, max: p.yMax,
          afterBuildTicks: s => { s.ticks = p.ticks.map(v => ({ value: v })); },
          afterFit: s => { s.width = AXIS_W; },
          grid: { color: '#ffffff', lineWidth: 1.6, drawTicks: false },
          border: { display: false },
          ticks: {
            padding: 16,
            color: '#262626',
            font: ctx => ({ family: FONT,
              size: ctx.tick && mantissa(ctx.tick.value).m !== 1 ? 14 : 18 }),
            callback: v => logLabel(v)
          }
        }
      }
    },
    plugins: [{
      id: 'axesBg',
      beforeDraw(chart) {
        const a = chart.chartArea, c = chart.ctx;
        c.save();
        c.fillStyle = '#EAEAF2';
        c.fillRect(a.left, a.top, a.right - a.left, a.bottom - a.top);
        c.restore();
      }
    }]
  });
});

// figure title and shared axis labels
addText('HFSE Enriched', '', { fontSize: '31px', left: '575.5px', top: '7.6px', transform: 'translateX(-50%)' });
addText('Time (Sec)', '', { fontSize: '25px', left: '651px', top: '844px', transform: 'translateX(-50%)' });
addText('Intensity (CPS)', '', { fontSize: '25.5px', left: '24px', top: '370px',
  transform: 'translate(-50%, -50%) rotate(-90deg)' });

// legend
const legend = document.createElement('div');
legend.id = 'legend';
fig.appendChild(legend);
const lt = document.createElement('div');
lt.className = 'txt';
lt.textContent = 'Samples';
Object.assign(lt.style, { fontWeight: 'bold', fontSize: '16.5px', left: '0', width: '100%',
  textAlign: 'center', top: '7px' });
legend.appendChild(lt);
// two columns, filled column-wise
const legendOrder = [[0, 0, 0], [1, 0, 1], [2, 1, 0], [3, 1, 1]];
legendOrder.forEach(([si, col, row]) => {
  const sw = document.createElement('div');
  sw.className = 'sw';
  Object.assign(sw.style, { background: sampleColors[si], left: (9 + col * 141) + 'px',
    top: (38 + row * 30.6) + 'px' });
  legend.appendChild(sw);
  const tx = document.createElement('div');
  tx.className = 'txt';
  tx.textContent = sampleNames[si];
  Object.assign(tx.style, { left: (71 + col * 140) + 'px', top: (35.5 + row * 30.6) + 'px' });
  legend.appendChild(tx);
});
</script>
</body>
</html>
